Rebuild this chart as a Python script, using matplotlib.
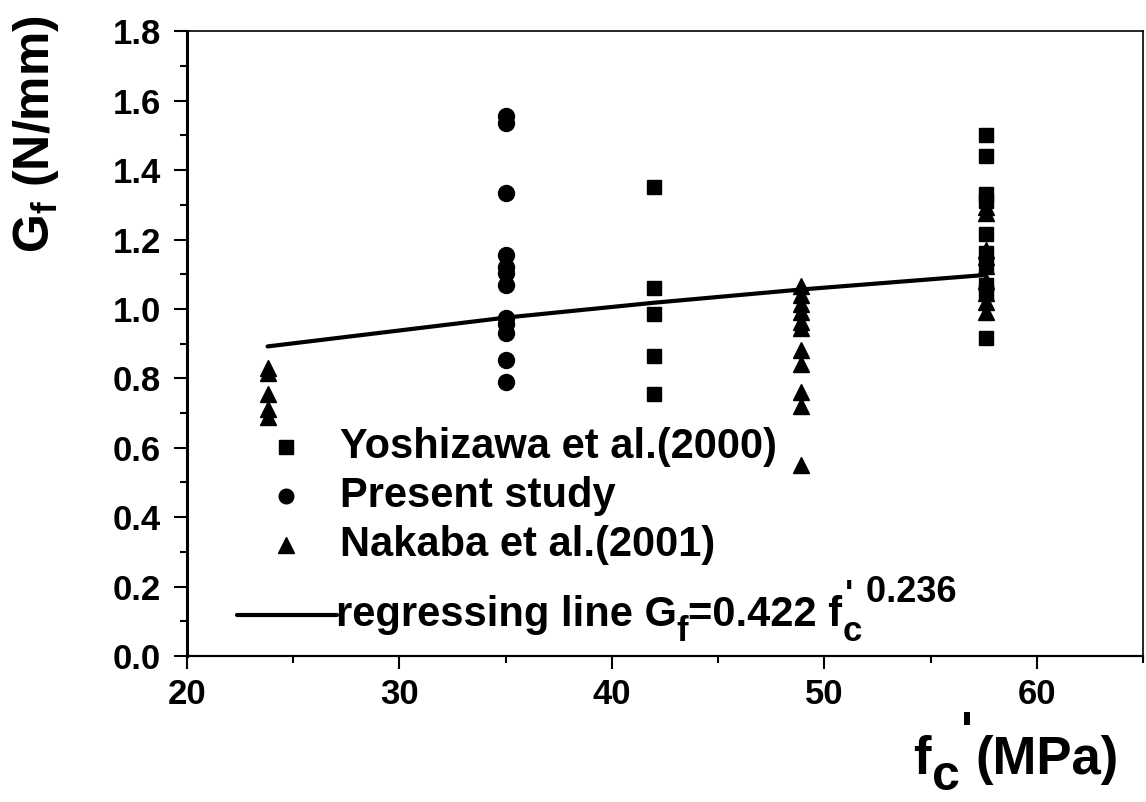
import matplotlib
matplotlib.use("Agg")
import matplotlib.pyplot as plt
from matplotlib.ticker import MultipleLocator

plt.rcParams['font.family'] = ['Liberation Sans', 'DejaVu Sans']
plt.rcParams['font.weight'] = 'bold'
plt.rcParams['mathtext.fontset'] = 'custom'
plt.rcParams['mathtext.rm'] = 'Liberation Sans:bold'
plt.rcParams['mathtext.it'] = 'Liberation Sans:bold'
plt.rcParams['mathtext.bf'] = 'Liberation Sans:bold'

# data
# Yoshizawa et al. (2000) - squares
yosh_x = [42.0] * 5 + [57.6] * 10
yosh_y = [1.35, 1.06, 0.985, 0.865, 0.755,
          1.50, 1.44, 1.33, 1.31, 1.215, 1.16, 1.13, 1.07, 1.05, 0.915]

# Present study - circles
pres_x = [35.0] * 12
pres_y = [1.555, 1.535, 1.335, 1.155, 1.12, 1.105, 1.068, 0.975,
          0.958, 0.93, 0.853, 0.79]

# Nakaba et al. (2001) - triangles
naka_x = [23.8] * 5 + [48.9] * 11 + [57.6] * 9
naka_y = [0.83, 0.815, 0.755, 0.712, 0.69,
          1.066, 1.04, 1.015, 0.99, 0.963, 0.946, 0.883, 0.842, 0.76, 0.72, 0.55,
          1.295, 1.275, 1.17, 1.15, 1.125, 1.08, 1.045, 1.02, 0.99]

# regression line  Gf = 0.422 fc'^0.236 (values read at the data columns)
reg_x = [23.8, 35.0, 42.0, 48.9, 57.6]
reg_y = [0.892, 0.975, 1.018, 1.056, 1.098]

fig = plt.figure(figsize=(11.46, 8.02), dpi=100)
ax = fig.add_axes([0.163, 0.182, 0.8345, 0.779])

ax.plot(reg_x, reg_y, color='black', lw=3, solid_capstyle='round', zorder=2)
ax.plot(yosh_x, yosh_y, 's', color='black', ms=10, ls='none', zorder=3)
ax.plot(pres_x, pres_y, 'o', color='black', ms=11.5, ls='none', zorder=3)
ax.plot(naka_x, naka_y, '^', color='black', ms=12, ls='none', zorder=3)

ax.set_xlim(20, 65)
ax.set_ylim(0, 1.8)
ax.xaxis.set_major_locator(MultipleLocator(10))
ax.xaxis.set_minor_locator(MultipleLocator(5))
ax.yaxis.set_major_locator(MultipleLocator(0.2))
ax.yaxis.set_minor_locator(MultipleLocator(0.1))
ax.set_xticks([20, 30, 40, 50, 60])
ax.set_yticklabels([f"{v:.1f}" for v in ax.get_yticks()])

ax.tick_params(axis='both', which='major', direction='out', length=9.5, width=1.5,
               labelsize=25, pad=6)
ax.tick_params(axis='both', which='minor', direction='out', length=5, width=1.5)
ax.tick_params(axis='y', which='major', pad=9)
ax.spines['left'].set_linewidth(2.2)
ax.spines['bottom'].set_linewidth(1.6)
ax.spines['top'].set_linewidth(1.2)
ax.spines['right'].set_linewidth(1.2)
for lab in ax.get_xticklabels() + ax.get_yticklabels():
    lab.set_fontweight('bold')


def chain(prev, s, size, dy=0, dx=0, **kw):
    # put a text piece right after the previous one
    return ax.annotate(s, xy=(1, 0), xycoords=prev, xytext=(dx, dy),
                       textcoords='offset points', fontsize=size,
                       fontweight='bold', va='bottom', ha='left',
                       annotation_clip=False, **kw)


# legend drawn in place
leg_mx = 24.65
leg_tx = 27.2
ax.plot([leg_mx], [0.601], 's', color='black', ms=10, clip_on=False)
ax.plot([leg_mx], [0.460], 'o', color='black', ms=10.5, clip_on=False)
ax.plot([leg_mx], [0.319], '^', color='black', ms=11, clip_on=False)
ax.plot([22.35, 27.05], [0.118, 0.118], color='black', lw=3, solid_capstyle='round')
ax.text(leg_tx, 0.601, "Yoshizawa et al.(2000)", fontsize=30, fontweight='bold', va='center')
ax.text(leg_tx, 0.460, "Present study", fontsize=30, fontweight='bold', va='center')
ax.text(leg_tx, 0.319, "Nakaba et al.(2001)", fontsize=30, fontweight='bold', va='center')

t = ax.text(27.0, 0.118, "regressing line G", fontsize=30, fontweight='bold', va='center')
t = chain(t, "f", 25, dy=-9)
t = chain(t, "=0.422 f", 30, dy=9)
t = chain(t, "c", 25, dy=-9)
t = chain(t, "'", 25, dy=26, dx=-12)
t = chain(t, " 0.236", 26, dy=1, dx=2)

fig.text(0.031, 0.833, r"G$_\mathregular{f}$ (N/mm)", rotation=90, fontsize=36,
         fontweight='bold', ha='center', va='center')

xl = fig.text(913 / 1146, 1 - 785 / 802, "f", fontsize=38, fontweight='bold',
              ha='left', va='bottom')
xl = chain(xl, "c", 36, dy=-11, dx=1)
xl = chain(xl, "'", 36, dy=31, dx=1)
xl = chain(xl, "(MPa)", 38, dy=-20, dx=2)

fig.savefig("out.png", dpi=100)
